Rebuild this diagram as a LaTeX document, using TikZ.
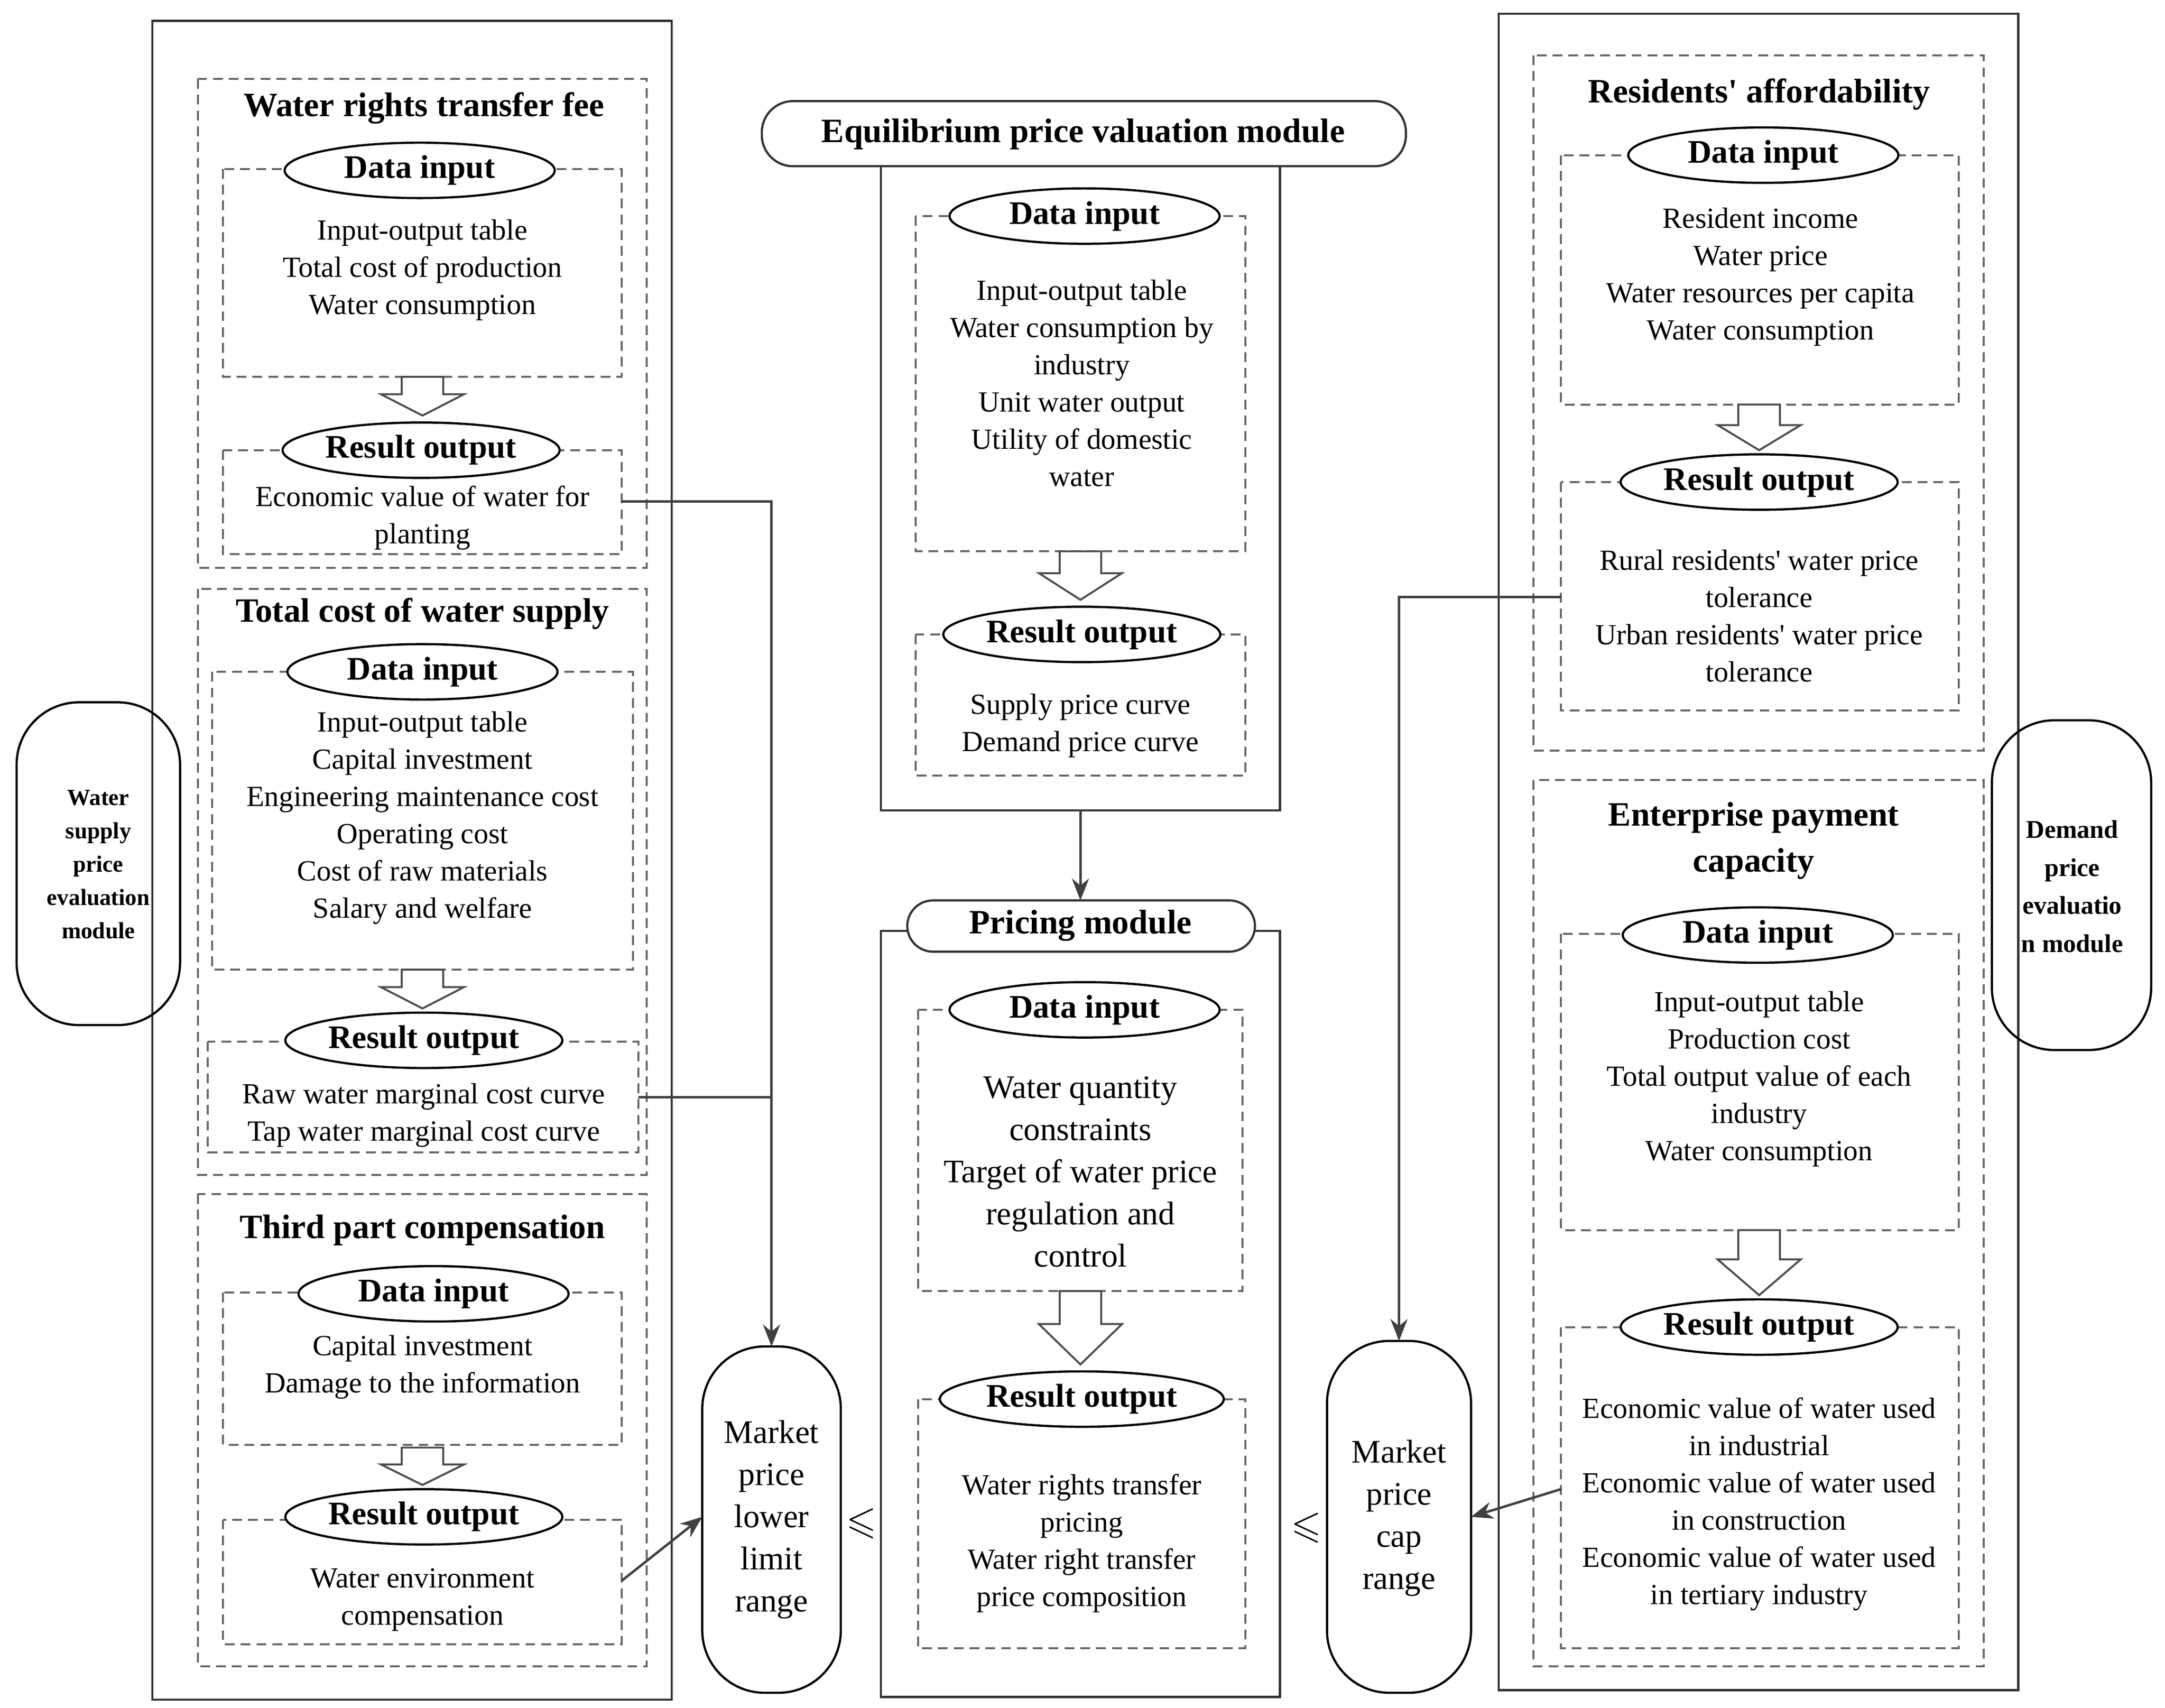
\documentclass[tikz,border=0pt]{standalone}
\usepackage{amssymb}
\usepackage{fontspec}
\setmainfont{Liberation Serif}
\usetikzlibrary{shapes.geometric,arrows.meta}
\begin{document}
\begin{tikzpicture}[x=0.02cm,y=-0.02cm,
  dbox/.style={draw=black!60,dashed,line width=0.8pt,dash pattern=on 4pt off 2.5pt},
  obox/.style={draw=black!80,line width=0.9pt},
  ell/.style={ellipse,draw=black,fill=white,line width=0.9pt,minimum width=3.9cm,minimum height=0.8cm,inner sep=0pt,font=\fontsize{13.5}{15}\selectfont\bfseries},
  txt/.style={align=center,font=\fontsize{12}{15.3}\selectfont,inner sep=0pt},
  big/.style={align=center,font=\fontsize{13.5}{17.3}\selectfont,inner sep=0pt},
  ttl/.style={font=\fontsize{14}{19}\selectfont\bfseries,align=center,inner sep=0pt},
  conn/.style={draw=black!75,line width=1pt},
  tip/.style={-{Stealth[length=9pt,width=7pt]}},
  pill/.style={draw=black,line width=0.9pt,rounded corners=0.9cm}]
\useasboundingbox (0,0) rectangle (1563,1233);
\newcommand\harrow[3]{\draw[black!70,line width=0.8pt,fill=white] (#1-15,#2)--(#1+15,#2)--(#1+15,{#2+0.45*(#3-#2)})--(#1+30,{#2+0.45*(#3-#2)})--(#1,#3)--(#1-30,{#2+0.45*(#3-#2)})--(#1-15,{#2+0.45*(#3-#2)})--cycle;}
% ---------- LEFT ----------
\draw[obox] (110,15) rectangle (485,1227);
\draw[dbox] (143,57) rectangle (467,410);
\node[ttl] (t1) at (306,78) {Water rights transfer fee};
\draw[dbox] (161,122) rectangle (449,272);
\node[ell] (d1) at (303,123) {Data input};
\node[txt] (d1t) at (305,195) {Input-output table\\Total cost of production\\Water consumption};
\harrow{305}{272}{300}
\draw[dbox] (161,325) rectangle (449,400);
\node[ell,minimum width=4.0cm] (r1) at (304,325) {Result output};
\node[txt] (r1t) at (305,374) {Economic value of water for\\planting};
\draw[dbox] (143,425) rectangle (467,848);
\node[ttl] (t2) at (305,443) {Total cost of water supply};
\draw[dbox] (153,485) rectangle (457,700);
\node[ell] (d2) at (305,485) {Data input};
\node[txt] (d2t) at (305,590.5) {Input-output table\\Capital investment\\Engineering maintenance cost\\Operating cost\\Cost of raw materials\\Salary and welfare};
\harrow{305}{700}{728}
\draw[dbox] (150,752) rectangle (461,832);
\node[ell,minimum width=4.0cm] (r2) at (306,751) {Result output};
\node[txt] (r2t) at (306,805) {Raw water marginal cost curve\\Tap water marginal cost curve};
\draw[dbox] (143,862) rectangle (467,1203);
\node[ttl] (t3) at (305,888) {Third part compensation};
\draw[dbox] (161,933) rectangle (449,1043);
\node[ell] (d3) at (313,934) {Data input};
\node[txt] (d3t) at (305,987) {Capital investment\\Damage to the information};
\harrow{305}{1045}{1072}
\draw[dbox] (161,1097) rectangle (449,1187);
\node[ell,minimum width=4.0cm] (r3) at (306,1095) {Result output};
\node[txt] (r3t) at (305,1155) {Water environment\\compensation};
\draw[pill] (12,507) rectangle (130,740);
\node[align=center,font=\fontsize{9.5}{13.7}\selectfont\bfseries] (lm) at (71,624) {Water\\supply\\price\\evaluation\\module};
% ---------- MIDDLE ----------
\draw[obox] (636,120) rectangle (924,585);
\draw[obox,fill=white,rounded corners=0.45cm] (550,73) rectangle (1015,120);
\node[ttl] (em) at (782,97) {Equilibrium price valuation module};
\draw[dbox] (661,156) rectangle (899,398);
\node[ell] (d4) at (783,156) {Data input};
\node[txt] (d4t) at (781,276.5) {Input-output table\\Water consumption by\\industry\\Unit water output\\Utility of domestic\\water};
\harrow{780}{398}{433}
\draw[dbox] (661,458) rectangle (899,560);
\node[ell,minimum width=4.0cm] (r4) at (781,458) {Result output};
\node[txt] (r4t) at (780,524) {Supply price curve\\Demand price curve};
\draw[obox] (636,672) rectangle (924,1225);
\draw[obox,fill=white,rounded corners=0.37cm] (655,650) rectangle (906,687);
\node[ttl] (pm) at (780,668) {Pricing module};
\draw[dbox] (663,729) rectangle (897,932);
\node[ell] (d5) at (783,729) {Data input};
\node[big] (d5t) at (780,846) {Water quantity\\constraints\\Target of water price\\regulation and\\control};
\harrow{780}{932}{985}
\draw[dbox] (663,1010) rectangle (899,1190);
\node[ell,minimum width=4.1cm] (r5) at (781,1010) {Result output};
\node[txt] (r5t) at (781,1114) {Water rights transfer\\pricing\\Water right transfer\\price composition};
\coordinate (emb) at (780,585);
\draw[conn,tip] (emb) -- (780,650);
% lower / cap
\draw[pill] (507,972) rectangle (607,1222);
\node[align=center,font=\fontsize{13.5}{17.3}\selectfont] (low) at (557,1097) {Market\\price\\lower\\limit\\range};
\draw[pill] (958,968) rectangle (1062,1222);
\node[align=center,font=\fontsize{13.5}{17.3}\selectfont] (cap) at (1010,1096) {Market\\price\\cap\\range};
\node[font=\fontsize{16}{16}\selectfont] (le1) at (622,1100) {$\leqslant$};
\node[font=\fontsize{16}{16}\selectfont] (le2) at (943,1103) {$\leqslant$};
% ---------- RIGHT ----------
\draw[obox] (1082,10) rectangle (1457,1220);
\draw[dbox] (1107,40) rectangle (1432,542);
\node[ttl] (t6) at (1270,68) {Residents\textquotesingle\ affordability};
\draw[dbox] (1127,112) rectangle (1414,292);
\node[ell] (d6) at (1273,112) {Data input};
\node[txt] (d6t) at (1271,200) {Resident income\\Water price\\Water resources per capita\\Water consumption};
\harrow{1270}{292}{325}
\draw[dbox] (1127,348) rectangle (1414,513);
\node[ell,minimum width=4.0cm] (r6) at (1270,348) {Result output};
\node[txt] (r6t) at (1270,444.5) {Rural residents\textquotesingle\ water price\\tolerance\\Urban residents\textquotesingle\ water price\\tolerance};
\draw[dbox] (1107,563) rectangle (1432,1203);
\node[ttl] (t7) at (1266,607) {Enterprise payment\\capacity};
\draw[dbox] (1127,674) rectangle (1414,888);
\node[ell] (d7) at (1269,675) {Data input};
\node[txt] (d7t) at (1270,779) {Input-output table\\Production cost\\Total output value of each\\industry\\Water consumption};
\harrow{1270}{888}{935}
\draw[dbox] (1127,958) rectangle (1414,1190);
\node[ell,minimum width=4.0cm] (r7) at (1270,958) {Result output};
\node[txt] (r7t) at (1270,1086) {Economic value of water used\\in industrial\\Economic value of water used\\in construction\\Economic value of water used\\in tertiary industry};
\draw[pill] (1438,520) rectangle (1553,758);
\node[align=center,font=\fontsize{10.5}{15.6}\selectfont\bfseries] (rm) at (1496,640) {Demand\\price\\evaluatio\\n module};
% ---------- connectors ----------
\coordinate (a1) at (449,362);
\coordinate (a2) at (461,792);
\coordinate (a3) at (449,1141);
\coordinate (lowtop) at (557,972);
\coordinate (lowleft) at (507,1095);
\coordinate (b1) at (1127,431);
\coordinate (b2) at (1127,1075);
\coordinate (captop) at (1010,968);
\coordinate (capright) at (1062,1095);
\draw[conn,tip] (a1) -- (557,362) -- (lowtop);
\draw[conn] (a2) -- (557,792);
\draw[conn,tip] (a3) -- (lowleft);
\draw[conn,tip] (b1) -- (1010,431) -- (captop);
\draw[conn,tip] (b2) -- (capright);
\end{tikzpicture}
\end{document}
